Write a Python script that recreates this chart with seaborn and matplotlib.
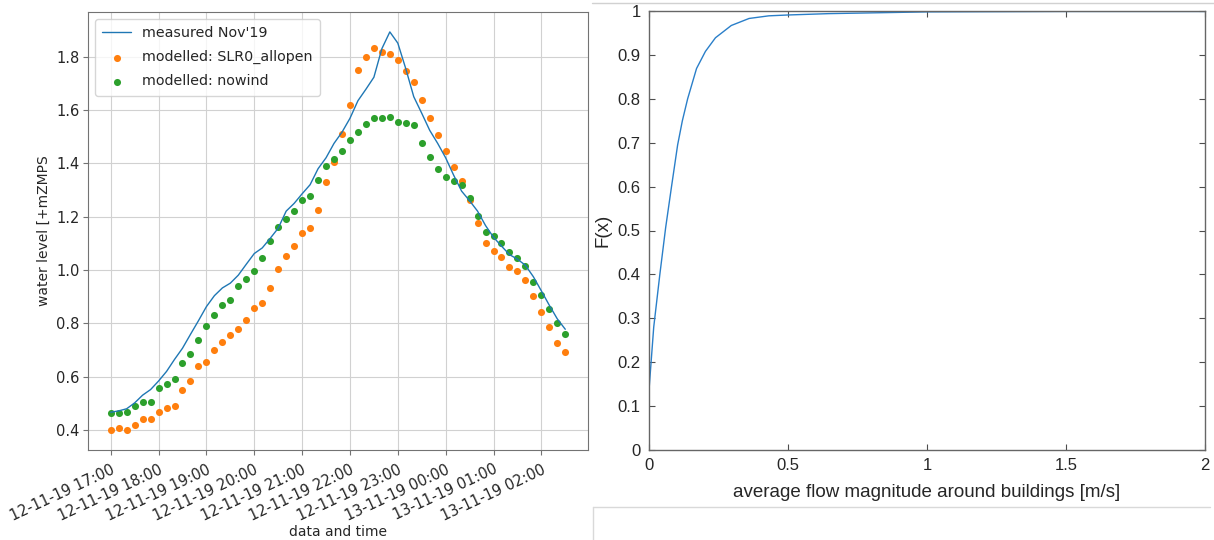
import pandas as pd
import matplotlib.pyplot as plt
import matplotlib.dates as mdates
from matplotlib.lines import Line2D
import seaborn as sns

sns.set_style('whitegrid', {'axes.edgecolor': '0.45', 'grid.color': '0.82',
                            'xtick.bottom': True, 'ytick.left': True})
plt.rcParams['font.family'] = ['DejaVu Sans']

# time stamps every 10 minutes, 12-11-19 17:00 .. 13-11-19 02:30
times = pd.date_range('2019-11-12 17:00', periods=58, freq='10min')

measured = [0.467, 0.472, 0.480, 0.502, 0.531, 0.552, 0.584, 0.620, 0.665, 0.707,
            0.759, 0.810, 0.863, 0.904, 0.933, 0.951, 0.981, 1.022, 1.062, 1.083,
            1.119, 1.157, 1.221, 1.250, 1.286, 1.320, 1.380, 1.421, 1.475, 1.517,
            1.569, 1.635, 1.678, 1.723, 1.830, 1.893, 1.851, 1.755, 1.650, 1.588,
            1.524, 1.475, 1.421, 1.356, 1.296, 1.260, 1.221, 1.167, 1.123, 1.090,
            1.058, 1.041, 1.018, 0.975, 0.922, 0.868, 0.817, 0.778]

slr0_allopen = [0.400, 0.406, 0.400, 0.420, 0.442, 0.442, 0.469, 0.481, 0.489, 0.552,
                0.585, 0.639, 0.657, 0.702, 0.729, 0.756, 0.779, 0.811, 0.856, 0.878,
                0.933, 1.005, 1.054, 1.089, 1.139, 1.157, 1.224, 1.331, 1.407, 1.509,
                1.620, 1.749, 1.800, 1.833, 1.819, 1.810, 1.786, 1.745, 1.706, 1.639,
                1.571, 1.507, 1.445, 1.387, 1.333, 1.262, 1.178, 1.102, 1.071, 1.049,
                1.013, 0.996, 0.964, 0.903, 0.842, 0.787, 0.725, 0.693]

nowind = [0.463, 0.463, 0.466, 0.489, 0.505, 0.504, 0.557, 0.574, 0.592, 0.651,
          0.685, 0.738, 0.792, 0.832, 0.869, 0.888, 0.939, 0.967, 0.996, 1.044,
          1.108, 1.160, 1.193, 1.221, 1.264, 1.278, 1.336, 1.391, 1.417, 1.445,
          1.488, 1.517, 1.549, 1.571, 1.572, 1.574, 1.557, 1.552, 1.544, 1.477,
          1.423, 1.378, 1.349, 1.333, 1.318, 1.269, 1.203, 1.144, 1.126, 1.102,
          1.068, 1.047, 1.014, 0.955, 0.908, 0.854, 0.800, 0.761]

# empirical CDF of flow magnitude (right panel)
flow_x = [0.0, 0.001, 0.017, 0.039, 0.060, 0.081, 0.103, 0.120, 0.139, 0.171,
          0.203, 0.239, 0.296, 0.360, 0.431, 0.503, 0.646, 1.0, 1.5, 2.0]
flow_F = [0.0, 0.145, 0.280, 0.400, 0.507, 0.600, 0.695, 0.750, 0.800, 0.869,
          0.908, 0.939, 0.967, 0.983, 0.989, 0.991, 0.994, 0.998, 0.999, 0.999]

fig = plt.figure(figsize=(12.14, 5.40), dpi=100)
ax1 = fig.add_axes([88 / 1214, 90 / 540, 500 / 1214, 438 / 540])
ax2 = fig.add_axes([649 / 1214, 90 / 540, 556 / 1214, 439 / 540])

# --- left: water level time series
df = pd.DataFrame({'time': times, 'measured': measured,
                   'slr0': slr0_allopen, 'nowind': nowind})
sns.lineplot(data=df, x='time', y='measured', ax=ax1, color='C0', lw=1,
             label="measured Nov'19")
sns.scatterplot(data=df, x='time', y='slr0', ax=ax1, color='C1', s=26,
                linewidth=0, label='modelled: SLR0_allopen')
sns.scatterplot(data=df, x='time', y='nowind', ax=ax1, color='C2', s=26,
                linewidth=0, label='modelled: nowind')

ax1.xaxis.set_major_locator(mdates.HourLocator())
ax1.xaxis.set_major_formatter(mdates.DateFormatter('%d-%m-%y %H:%M'))
for lab in ax1.get_xticklabels():
    lab.set_rotation(25)
    lab.set_ha('right')
    lab.set_rotation_mode('anchor')
ax1.tick_params(labelsize=10.5, length=3.5, color='0.45', pad=2.5)
ax1.tick_params(axis='x', pad=5)
ax1.set_yticks([0.4, 0.6, 0.8, 1.0, 1.2, 1.4, 1.6, 1.8])
ax1.set_xlabel('data and time', fontsize=10, labelpad=1)
ax1.set_ylabel('water level [+mZMPS', fontsize=10)
ax1.legend(loc='upper left', fontsize=10.3, frameon=True, labelspacing=0.7,
           borderpad=0.5)

# --- right: CDF, matlab look
sns.lineplot(x=flow_x, y=flow_F, ax=ax2, color='#2a7fc9', lw=1, sort=False)
ax2.grid(False)
ax2.set_xlim(0, 2)
ax2.set_ylim(0, 1)
ax2.set_xticks([0, 0.5, 1, 1.5, 2])
ax2.set_xticklabels(['0', '0.5', '1', '1.5', '2'])
ax2.set_yticks([i / 10 for i in range(11)])
ax2.set_yticklabels(['0'] + [f'0.{i}' for i in range(1, 10)] + ['1'])
ax2.tick_params(direction='in', length=4, color='0.3', labelsize=12,
                top=True, right=True, bottom=True, left=True, pad=6,
                labelcolor='0.15')
for lab in ax2.get_xticklabels() + ax2.get_yticklabels():
    lab.set_family(['Liberation Sans'])
for sp in ax2.spines.values():
    sp.set_color('0.4')
    sp.set_linewidth(1)
ax2.set_xlabel('average flow magnitude around buildings [m/s]', fontsize=13.5,
               family=['Liberation Sans'], color='0.15', labelpad=8)
ax2.set_ylabel('F(x)', fontsize=13.5, family=['Liberation Sans'], color='0.15',
               labelpad=4)

# window edges around the right figure
fig.add_artist(Line2D([592 / 1214, 1], [1 - 3 / 540, 1 - 3 / 540],
                      color='0.82', lw=1))
fig.add_artist(Line2D([593 / 1214, 1210 / 1214], [1 - 507 / 540, 1 - 507 / 540],
                      color='0.85', lw=1))
fig.add_artist(Line2D([593 / 1214, 593 / 1214], [0, 1 - 507 / 540],
                      color='0.85', lw=1))

fig.savefig('out.png', dpi=100)
